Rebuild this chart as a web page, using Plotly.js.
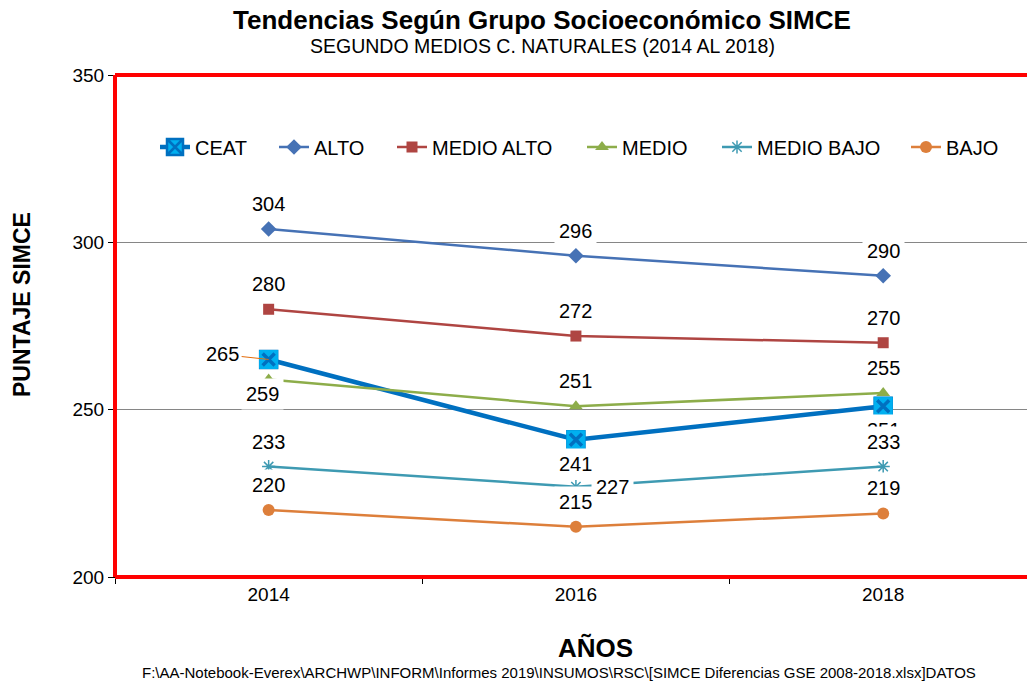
<!DOCTYPE html>
<html>
<head>
<meta charset="utf-8">
<script src="https://cdn.plot.ly/plotly-3.0.1.min.js"></script>
<style>
html,body{margin:0;padding:0;overflow:hidden;background:#fff;}
#chart{width:1027px;height:684px;}
</style>
</head>
<body>
<div id="chart"></div>
<script>
// ---- data ----
const years = ['2014', '2016', '2018'];
const seriesNames = ['CEAT', 'ALTO', 'MEDIO ALTO', 'MEDIO', 'MEDIO BAJO', 'BAJO'];
const ceat = [265, 241, 251];
const alto = [304, 296, 290];
const medioAlto = [280, 272, 270];
const medio = [259, 251, 255];
const medioBajo = [233, 227, 233];
const bajo = [220, 215, 219];
const yTicks = [200, 250, 300, 350];

const titleText = '<b>Tendencias Según Grupo Socioeconómico SIMCE</b>';
const subtitleText = 'SEGUNDO MEDIOS C. NATURALES (2014 AL 2018)';
const xTitle = '<b>AÑOS</b>';
const yTitle = '<b>PUNTAJE SIMCE</b>';
const footerText = 'F:\\AA-Notebook-Everex\\ARCHWP\\INFORM\\Informes 2019\\INSUMOS\\RSC\\[SIMCE Diferencias GSE 2008-2018.xlsx]DATOS';

// ---- styles ----
const FONT = 'Liberation Sans, Arial, sans-serif';
const L = 115, R = 1027, T = 75, B = 577;
const px = v => (v - L) / (R - L);
const py = v => (B - v) / (B - T);

const styles = [
  {values: ceat, color: '#0070C0', width: 4.5, marker: {symbol: 'square-x', size: 17, color: '#00B0F0', line: {color: '#0070C0', width: 2.5}}, labels: ['left', 'below', 'below']},
  {values: alto, color: '#4672B5', width: 2.5, marker: {symbol: 'diamond', size: 12, color: '#4672B5'}, labels: ['above', 'above', 'above']},
  {values: medioAlto, color: '#AF4542', width: 2.5, marker: {symbol: 'square', size: 11, color: '#AF4542'}, labels: ['above', 'above', 'above']},
  {values: medio, color: '#8DAD4A', width: 2.5, marker: {symbol: 'triangle-up', size: 12, color: '#8DAD4A'}, labels: ['belowleft', 'above', 'above']},
  {values: medioBajo, color: '#3E9AB2', width: 2.5, marker: {symbol: 'asterisk-open', size: 11, color: '#3E9AB2', line: {color: '#3E9AB2', width: 1.5}}, labels: ['above', 'right', 'above']},
  {values: bajo, color: '#DD7F3B', width: 2.5, marker: {symbol: 'circle', size: 12, color: '#DD7F3B'}, labels: ['above', 'above', 'above']}
];
const shifts = {
  above: [0, 25], below: [0, -24], left: [-46, 5], right: [37, 0], belowleft: [-6, -14]
};
// left edge of each legend entry (px)
const legendLeft = [155, 274, 392, 582, 717, 906];

const traces = [];
styles.forEach((s, i) => {
  const legendId = i === 0 ? 'legend' : 'legend' + (i + 1);
  traces.push({
    type: 'scatter', mode: 'lines+markers', name: seriesNames[i],
    x: years, y: s.values,
    line: {color: s.color, width: s.width},
    marker: s.marker,
    cliponaxis: false,
    legend: legendId
  });
  if (i === 0) {
    // overlay: light-blue square body with dark-blue X (as in the original marker)
    traces.push({
      type: 'scatter', mode: 'markers', name: seriesNames[i] + ' box',
      x: years, y: s.values, showlegend: false, cliponaxis: false,
      marker: {symbol: 'square', size: 18, color: '#00B0F0', line: {color: '#00B0F0', width: 1}}
    });
    traces.push({
      type: 'scatter', mode: 'markers', name: seriesNames[i] + ' x',
      x: years, y: s.values, showlegend: false, cliponaxis: false,
      marker: {symbol: 'x-thin-open', size: 12, color: '#0070C0', line: {color: '#0070C0', width: 3.5}}
    });
  }
});

const annotations = [];
const order = [1, 2, 3, 5, 0, 4];
order.forEach(i => {
  const s = styles[i];
  s.values.forEach((v, j) => {
    const sh = shifts[s.labels[j]];
    const a = {
      x: j, y: v, xref: 'x', yref: 'y', text: String(v), showarrow: false,
      xshift: sh[0], yshift: sh[1], bgcolor: '#ffffff', borderpad: 4,
      font: {family: FONT, size: 20, color: '#000'}
    };
    if (s.labels[j] === 'left') {
      a.showarrow = true; a.ax = -46; a.ay = -5; a.xshift = 0; a.yshift = 0;
      a.arrowhead = 0; a.arrowwidth = 1; a.arrowcolor = '#E46C0A'; a.borderpad = 2;
      a.bgcolor = 'rgba(255,255,255,0)';
    }
    annotations.push(a);
  });
});

annotations.push(
  {xref: 'paper', yref: 'paper', x: px(542), y: py(20), text: titleText, showarrow: false,
    font: {family: FONT, size: 26, color: '#000'}, yanchor: 'middle'},
  {xref: 'paper', yref: 'paper', x: px(542), y: py(46), text: subtitleText, showarrow: false,
    font: {family: FONT, size: 19.5, color: '#000'}, yanchor: 'middle'},
  {xref: 'paper', yref: 'paper', x: px(595), y: py(648), text: xTitle, showarrow: false,
    font: {family: FONT, size: 26, color: '#000'}, yanchor: 'middle'},
  {xref: 'paper', yref: 'paper', x: px(22), y: py(305), text: yTitle, showarrow: false, textangle: -90,
    font: {family: FONT, size: 23, color: '#000'}, yanchor: 'middle', xanchor: 'center'},
  {xref: 'paper', yref: 'paper', x: px(559), y: py(672), text: footerText, showarrow: false,
    font: {family: FONT, size: 15, color: '#000'}, yanchor: 'middle'}
);

const layout = {
  width: 1027, height: 684,
  paper_bgcolor: '#fff', plot_bgcolor: '#fff',
  margin: {l: L, r: 1027 - R, t: T, b: 684 - B},
  font: {family: FONT, color: '#000'},
  showlegend: true,
  xaxis: {
    type: 'category', range: [-0.5, 2.468], tickson: 'boundaries',
    ticks: 'outside', ticklen: 6, tickcolor: '#000',
    showline: true, linecolor: '#000', linewidth: 1, showgrid: false, zeroline: false,
    tickfont: {family: FONT, size: 19, color: '#000'}
  },
  yaxis: {
    range: [200, 350], tickvals: yTicks, ticktext: yTicks.map(String),
    ticks: 'outside', ticklen: 6, tickcolor: '#000',
    showline: true, linecolor: '#000', linewidth: 1,
    showgrid: true, gridcolor: '#868686', gridwidth: 1.2, zeroline: false,
    tickfont: {family: FONT, size: 19, color: '#000'}
  },
  shapes: [
    {type: 'line', xref: 'paper', yref: 'paper', x0: 0, x1: 1.02, y0: 1, y1: 1, line: {color: '#FF0000', width: 4}},
    {type: 'line', xref: 'paper', yref: 'paper', x0: 0, x1: 1.02, y0: 0, y1: 0, line: {color: '#FF0000', width: 4}},
    {type: 'line', xref: 'paper', yref: 'paper', x0: 0, x1: 0, y0: 0, y1: 1, line: {color: '#FF0000', width: 4}}
  ],
  annotations: annotations
};
legendLeft.forEach((lx, i) => {
  const key = i === 0 ? 'legend' : 'legend' + (i + 1);
  layout[key] = {
    orientation: 'h', x: px(lx), y: py(147), xanchor: 'left', yanchor: 'middle',
    font: {family: FONT, size: 20, color: '#000'}, bgcolor: 'rgba(0,0,0,0)', itemwidth: 30
  };
});

Plotly.newPlot('chart', traces, layout, {displayModeBar: false, staticPlot: true});
</script>
</body>
</html>
